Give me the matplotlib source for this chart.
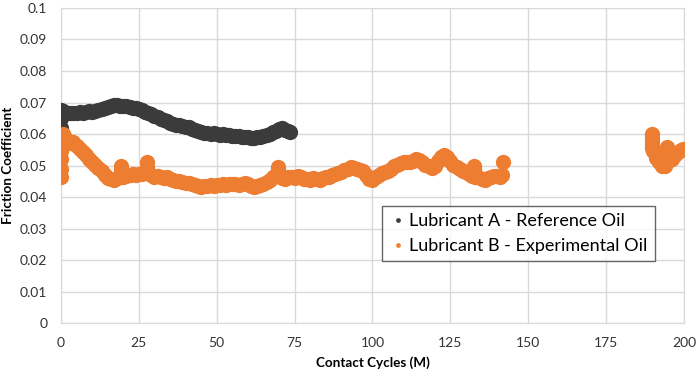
import matplotlib
matplotlib.use("Agg")
import matplotlib.pyplot as plt

plt.rcParams['font.family'] = ['Lato', 'DejaVu Sans']

# Lubricant A - Reference Oil
a_cycles = [0, 0, 0, 0, 0, 0, 0.5, 1, 2, 3, 4, 5, 6, 7, 8, 9, 10,
            11, 12, 13, 14, 15, 16, 17, 18, 19, 20, 21, 22, 23, 24, 25,
            26, 27, 28, 29, 30, 31, 32, 33, 34, 35, 36, 37, 38, 39, 40,
            41, 42, 43, 44, 45, 46, 47, 48, 49, 50, 51, 52, 53, 54, 55,
            56, 57, 58, 59, 60, 61, 62, 63, 64, 65, 66, 67, 68, 69, 70,
            71, 72, 73, 73.5]
a_friction = [0.0560, 0.058, 0.060, 0.062, 0.065, 0.0675, 0.0672, 0.0668,
              0.0666, 0.0668, 0.0666, 0.0668, 0.0670, 0.0668, 0.0670,
              0.0672, 0.0671, 0.0673, 0.0675, 0.0678, 0.0682, 0.0686,
              0.0689, 0.0691, 0.0692, 0.0690, 0.0688, 0.0689, 0.0686,
              0.0683, 0.0681, 0.0678, 0.0675, 0.0671, 0.0666, 0.0662,
              0.0658, 0.0654, 0.0648, 0.0644, 0.0640, 0.0636, 0.0632,
              0.0630, 0.0628, 0.0626, 0.0623, 0.0621, 0.0617, 0.0613,
              0.0610, 0.0606, 0.0603, 0.0602, 0.0601, 0.0602, 0.0600,
              0.0598, 0.0599, 0.0597, 0.0596, 0.0595, 0.0594, 0.0593,
              0.0592, 0.0591, 0.0590, 0.0588, 0.0587, 0.0589, 0.0591,
              0.0594, 0.0597, 0.0601, 0.0605, 0.0610, 0.0616, 0.0620,
              0.0612, 0.0609, 0.0605]

# Lubricant B - Experimental Oil
b_cycles = [0, 0, 0, 0, 0, 0, 0.5, 1, 2, 3, 4, 5, 6, 7, 8, 9, 10,
            11, 12, 13, 14, 15, 16, 17, 18, 19, 19.3, 19.3, 19.3, 20, 21,
            22, 23, 24, 25, 26, 27, 27.5, 27.5, 27.5, 28, 29, 30, 31, 32,
            33, 34, 35, 36, 37, 38, 39, 40, 41, 42, 43, 44, 45, 46, 47,
            48, 49, 50, 51, 52, 53, 54, 55, 56, 57, 58, 59, 60, 61, 62,
            63, 64, 65, 66, 67, 68, 69, 69.8, 69.8, 69.8, 70, 71, 72, 73,
            74, 75, 76, 77, 78, 79, 80, 81, 82, 83, 84, 85, 86, 87, 88,
            89, 90, 91, 92, 93, 94, 95, 96, 97, 98, 99, 100, 101, 102,
            103, 104, 105, 106, 107, 108, 109, 110, 111, 112, 113, 114,
            115, 116, 117, 118, 119, 120, 121, 122, 123, 124, 125, 126,
            127, 128, 129, 130, 131, 132, 132.7, 132.7, 132.7, 133, 134,
            135, 136, 137, 138, 139, 140, 141, 141.5, 142.0,
            189.6, 189.6, 189.6, 189.6, 189.6, 190.2, 191, 192, 193,
            193.8, 194.5, 194.5, 194.5, 195, 196, 197, 198, 199, 199.7]
b_friction = [0.0465, 0.049, 0.052, 0.0545, 0.057, 0.0595, 0.0600, 0.0593,
              0.0582, 0.0572, 0.0575, 0.0562, 0.0552, 0.0542, 0.0532,
              0.0522, 0.0512, 0.0502, 0.0492, 0.0482, 0.0470, 0.0460,
              0.0458, 0.0455, 0.0460, 0.0462, 0.0500, 0.0488, 0.0475,
              0.0465, 0.0466, 0.0470, 0.0472, 0.0470, 0.0474, 0.0472,
              0.0478, 0.0510, 0.0496, 0.0485, 0.0480, 0.0470, 0.0465,
              0.0468, 0.0462, 0.0460, 0.0462, 0.0458, 0.0455, 0.0452,
              0.0450, 0.0448, 0.0446, 0.0445, 0.0440, 0.0437, 0.0434,
              0.0433, 0.0434, 0.0436, 0.0437, 0.0436, 0.0438, 0.0437,
              0.0440, 0.0438, 0.0440, 0.0442, 0.0440, 0.0438, 0.0442,
              0.0445, 0.0440, 0.0436, 0.0433, 0.0434, 0.0438, 0.0442,
              0.0448, 0.0455, 0.0465, 0.0470, 0.0495, 0.0485, 0.0476,
              0.0468, 0.0460, 0.0458, 0.0465, 0.0462, 0.0460, 0.0466,
              0.0462, 0.0458, 0.0456, 0.0455, 0.0460, 0.0458, 0.0455,
              0.0460, 0.0465, 0.0462, 0.0470, 0.0472, 0.0475, 0.0480,
              0.0486, 0.0490, 0.0495, 0.0491, 0.0488, 0.0486, 0.0483,
              0.0470, 0.0458, 0.0455, 0.0462, 0.0470, 0.0475, 0.0480,
              0.0483, 0.0490, 0.0498, 0.0503, 0.0507, 0.0510, 0.0512,
              0.0510, 0.0515, 0.0520, 0.0516, 0.0510, 0.0503, 0.0497,
              0.0492, 0.0500, 0.0515, 0.0528, 0.0533, 0.0528, 0.0515,
              0.0503, 0.0495, 0.0488, 0.0482, 0.0478, 0.0472, 0.0468,
              0.0500, 0.0488, 0.0478, 0.0465, 0.0462, 0.0458, 0.0455,
              0.0460, 0.0465, 0.0468, 0.0466, 0.0465, 0.0470, 0.0512,
              0.0600, 0.0588, 0.0576, 0.0565, 0.0555, 0.0545, 0.0525,
              0.0512, 0.0500, 0.0498, 0.0520, 0.0560, 0.0542, 0.0515,
              0.0522, 0.0533, 0.0542, 0.0550, 0.0552]

x_ticks = [0, 25, 50, 75, 100, 125, 150, 175, 200]
y_ticks = [0, 0.01, 0.02, 0.03, 0.04, 0.05, 0.06, 0.07, 0.08, 0.09, 0.1]
y_labels = ["0", "0.01", "0.02", "0.03", "0.04", "0.05", "0.06", "0.07",
            "0.08", "0.09", "0.1"]

fig = plt.figure(figsize=(6.99, 3.72), dpi=100)
ax = fig.add_axes([0.0873, 0.1317, 0.8912, 0.8468])

ax.plot(a_cycles, a_friction, "o", color="#3b3b3b", markersize=11,
        markeredgewidth=0, label="Lubricant A - Reference Oil", zorder=3)
ax.plot(b_cycles, b_friction, "o", color="#ed7d31", markersize=11,
        markeredgewidth=0, label="Lubricant B - Experimental Oil", zorder=3)

ax.set_xlim(0, 200)
ax.set_ylim(0, 0.1)
ax.set_xticks(x_ticks)
ax.set_yticks(y_ticks)
ax.set_yticklabels(y_labels)
ax.grid(True, color="#d9d9d9", linewidth=1)
ax.set_axisbelow(True)
for s in ax.spines.values():
    s.set_color("#d9d9d9")
ax.tick_params(length=0, labelsize=10, colors="#333333", pad=10)
ax.tick_params(axis="y", pad=10)

ax.set_xlabel("Contact Cycles (M)", fontsize=9.7, fontweight="bold", labelpad=5)
ax.set_ylabel("Friction Coefficient", fontsize=9.7, fontweight="bold", labelpad=4)

leg = ax.legend(loc="upper left", bbox_to_anchor=(0.515, 0.372), fontsize=13,
                frameon=True, fancybox=False, markerscale=0.31,
                handletextpad=0.1, handlelength=1.0, borderpad=0.4,
                labelspacing=0.5, borderaxespad=0)
leg.get_frame().set_edgecolor("#404040")
leg.get_frame().set_linewidth(1)

plt.savefig("out.png", dpi=100)
